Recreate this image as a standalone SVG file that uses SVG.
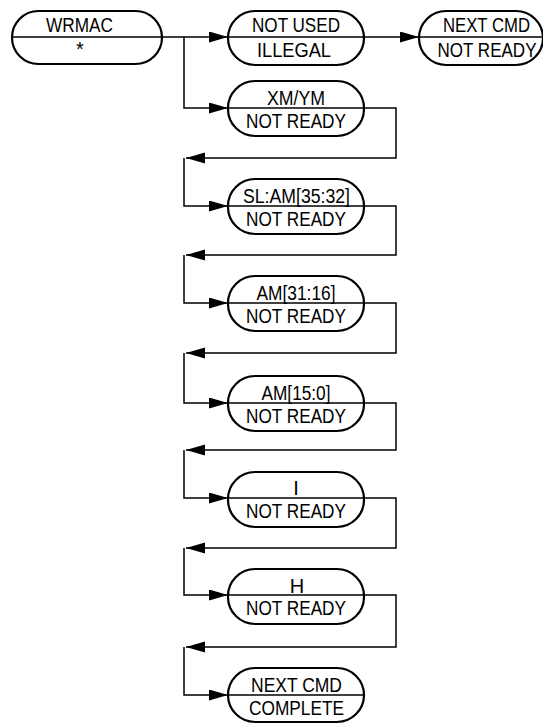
<svg xmlns="http://www.w3.org/2000/svg" width="543" height="724" viewBox="0 0 543 724">
<defs>
<marker id="ah" markerUnits="userSpaceOnUse" markerWidth="20" markerHeight="12" refX="19" refY="5.5" orient="auto">
<path d="M0,0 L19,5.5 L0,11 z" fill="#000"/>
</marker>
<style>
.n rect{fill:#fff;stroke:#000;stroke-width:2.2}
.n line{stroke:#000;stroke-width:1.3}
.n text{font-family:"Liberation Sans",Arial,sans-serif;font-size:20px;text-anchor:middle;fill:#000}
.c path{fill:none;stroke:#000;stroke-width:1.5;marker-end:url(#ah)}
</style>
</defs>
<rect width="543" height="724" fill="#fff"/>
<g class="c" id="connectors">
<path d="M162,37 H228"/>
<path d="M184,37 V108 H228"/>
<path d="M364,37 H419"/>
<path d="M364,108 H396 V158 H186"/>
<path d="M184,158 V206 H228"/>
<path d="M364,206 H396 V255 H186"/>
<path d="M184,255 V303 H228"/>
<path d="M364,303 H396 V353 H186"/>
<path d="M184,353 V403 H228"/>
<path d="M364,403 H396 V450 H186"/>
<path d="M184,450 V498 H228"/>
<path d="M364,498 H396 V548 H186"/>
<path d="M184,548 V595 H228"/>
<path d="M364,595 H396 V647 H186"/>
<path d="M184,647 V695 H228"/>
</g>
<g class="n" id="wrmac">
<rect x="12" y="11" width="150" height="53" rx="26.5"/>
<line x1="12" y1="37" x2="162" y2="37"/>
<text x="79.5" y="32" textLength="67" lengthAdjust="spacingAndGlyphs">WRMAC</text>
<text x="80" y="56">*</text>
</g>
<g class="n" id="not-used">
<rect x="228" y="11" width="136" height="54" rx="27"/>
<line x1="228" y1="37" x2="364" y2="37"/>
<text x="296" y="32" textLength="88" lengthAdjust="spacingAndGlyphs">NOT USED</text>
<text x="294" y="57" textLength="74" lengthAdjust="spacingAndGlyphs">ILLEGAL</text>
</g>
<g class="n" id="next-cmd-1">
<rect x="419" y="11" width="124" height="54" rx="27"/>
<line x1="419" y1="37" x2="543" y2="37"/>
<text x="486.5" y="32" textLength="87" lengthAdjust="spacingAndGlyphs">NEXT CMD</text>
<text x="487" y="57" textLength="99" lengthAdjust="spacingAndGlyphs">NOT READY</text>
</g>
<g class="n" id="xm-ym">
<rect x="228" y="81" width="136" height="55" rx="27"/>
<line x1="228" y1="108" x2="364" y2="108"/>
<text x="296" y="105" textLength="58" lengthAdjust="spacingAndGlyphs">XM/YM</text>
<text x="296" y="128" textLength="100" lengthAdjust="spacingAndGlyphs">NOT READY</text>
</g>
<g class="n" id="sl-am">
<rect x="228" y="179" width="136" height="55" rx="27"/>
<line x1="228" y1="206" x2="364" y2="206"/>
<text x="296.5" y="203" textLength="107" lengthAdjust="spacingAndGlyphs">SL:AM[35:32]</text>
<text x="296" y="226" textLength="100" lengthAdjust="spacingAndGlyphs">NOT READY</text>
</g>
<g class="n" id="am-31-16">
<rect x="228" y="276" width="136" height="55" rx="27"/>
<line x1="228" y1="303" x2="364" y2="303"/>
<text x="296" y="300" textLength="79" lengthAdjust="spacingAndGlyphs">AM[31:16]</text>
<text x="296" y="323" textLength="100" lengthAdjust="spacingAndGlyphs">NOT READY</text>
</g>
<g class="n" id="am-15-0">
<rect x="228" y="376" width="136" height="55" rx="27"/>
<line x1="228" y1="403" x2="364" y2="403"/>
<text x="296" y="400" textLength="69" lengthAdjust="spacingAndGlyphs">AM[15:0]</text>
<text x="296" y="423" textLength="100" lengthAdjust="spacingAndGlyphs">NOT READY</text>
</g>
<g class="n" id="i">
<rect x="228" y="472" width="136" height="55" rx="27"/>
<line x1="228" y1="498" x2="364" y2="498"/>
<text x="296" y="495">I</text>
<text x="296" y="518" textLength="100" lengthAdjust="spacingAndGlyphs">NOT READY</text>
</g>
<g class="n" id="h">
<rect x="228" y="569" width="136" height="55" rx="27"/>
<line x1="228" y1="595" x2="364" y2="595"/>
<text x="297" y="592.5">H</text>
<text x="296" y="614.5" textLength="100" lengthAdjust="spacingAndGlyphs">NOT READY</text>
</g>
<g class="n" id="next-cmd-2">
<rect x="228" y="668" width="136" height="54" rx="27"/>
<line x1="228" y1="695" x2="364" y2="695"/>
<text x="296.5" y="692" textLength="91" lengthAdjust="spacingAndGlyphs">NEXT CMD</text>
<text x="296.5" y="715" textLength="95" lengthAdjust="spacingAndGlyphs">COMPLETE</text>
</g>
</svg>
